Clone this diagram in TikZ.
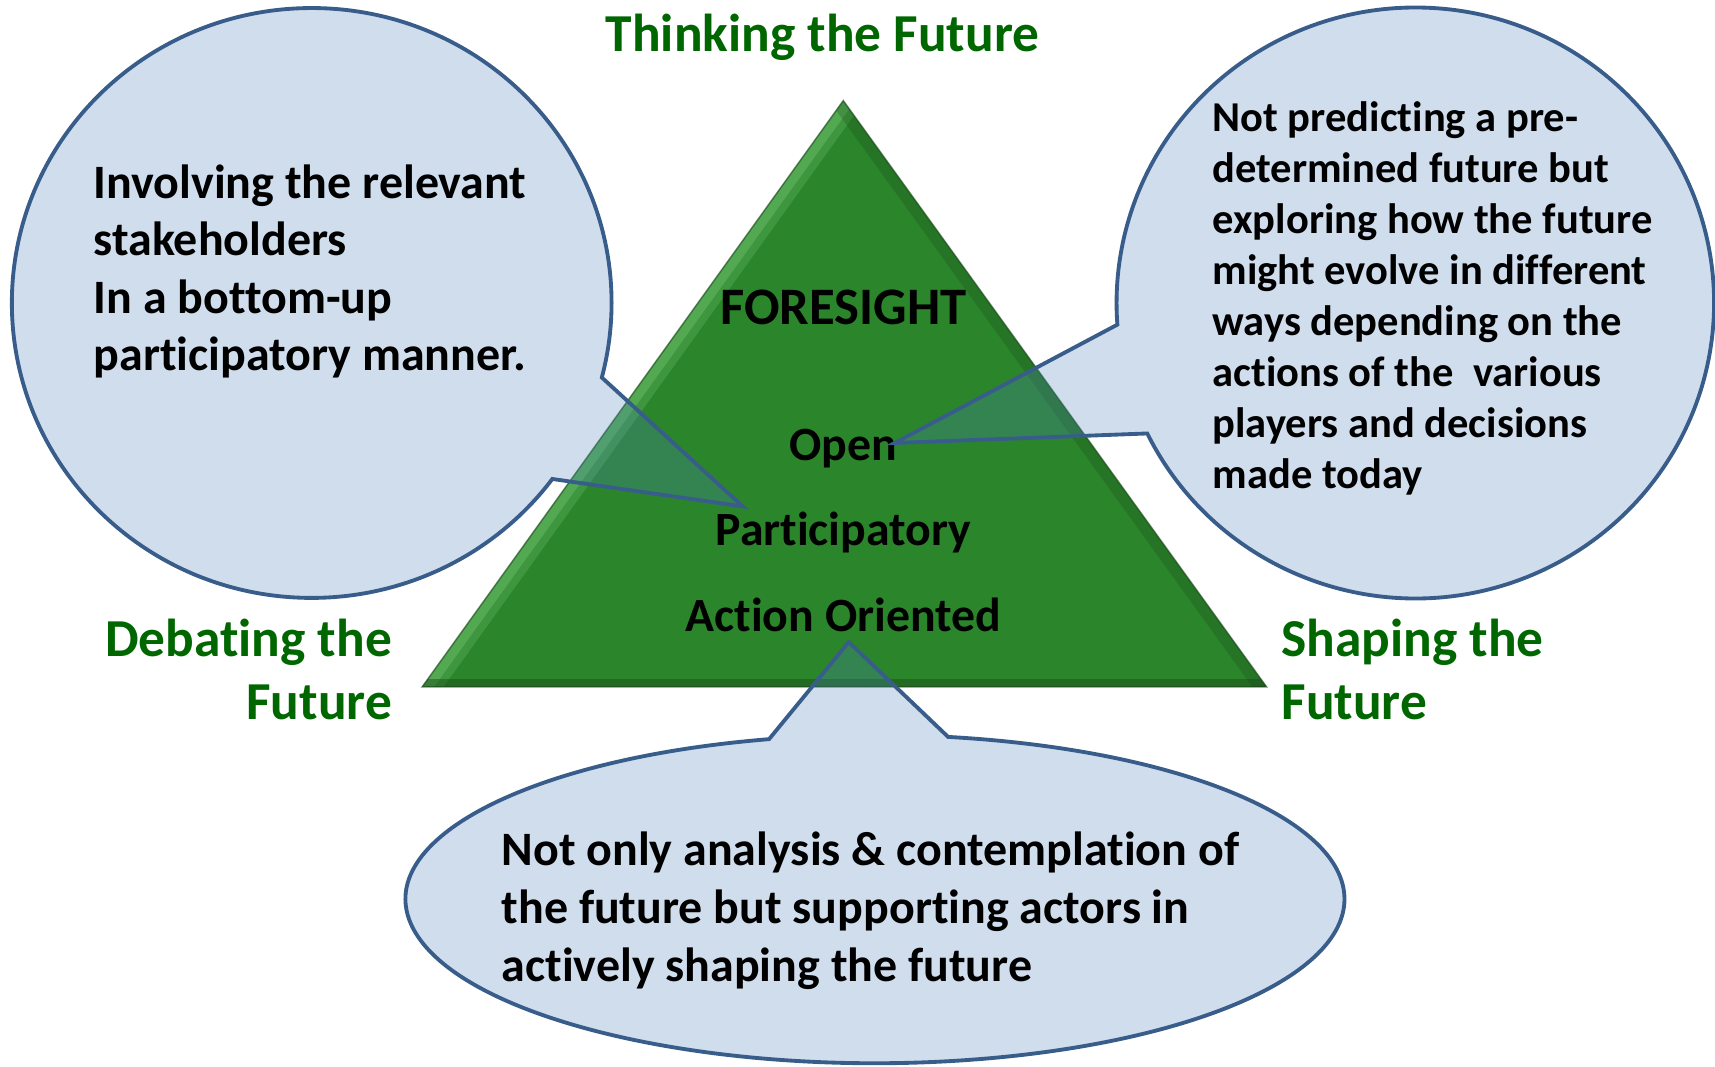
\documentclass[tikz,border=0pt]{standalone}
\usepackage{fontspec}
\setmainfont{Carlito}[Ligatures=NoCommon]
\usetikzlibrary{shapes.callouts}

\definecolor{trigreen}{RGB}{43,134,43}
\definecolor{hilite}{RGB}{120,205,120}
\definecolor{darkgreen}{RGB}{25,70,25}
\definecolor{labgreen}{RGB}{0,102,0}
\definecolor{bubfill}{RGB}{79,129,189}
\definecolor{bubline}{RGB}{56,93,138}

\begin{document}
\begin{tikzpicture}[x=0.01cm,y=-0.01cm,
    bubble/.style={ellipse callout,draw=bubline,line width=1pt,
        fill=bubfill,fill opacity=0.27,draw opacity=1,inner sep=0pt},
    bubtext/.style={font=\bfseries\fontsize{12.47}{14.97}\selectfont,
        align=left,anchor=base west,inner sep=0pt},
    smalltext/.style={font=\bfseries\fontsize{11.06}{13.26}\selectfont,
        align=left,anchor=base west,inner sep=0pt},
    greenlab/.style={font=\bfseries\fontsize{13.88}{16.5}\selectfont,
        text=labgreen,inner sep=0pt},
    triglab/.style={font=\bfseries\fontsize{12.42}{14}\selectfont,
        anchor=base,inner sep=0pt}]
    \useasboundingbox (0,0) rectangle (1568,975);

    \coordinate (T1) at (771,92);
    \coordinate (T2) at (386,628);
    \coordinate (T3) at (1158,628);

    % the pyramid
    \fill[trigreen] (T1) -- (T2) -- (T3) -- cycle;
    \begin{scope}
        \clip (T1) -- (T2) -- (T3) -- cycle;
        \draw[line width=9pt,hilite,opacity=.25] (T1) -- (T2);
        \draw[line width=5pt,hilite,opacity=.35] (T1) -- (T2);
        \draw[line width=6pt,darkgreen,opacity=.25] (T1) -- (T3);
        \draw[line width=4pt,darkgreen,opacity=.45] (T2) -- (T3);
    \end{scope}
    \draw[line width=.4pt,darkgreen,opacity=.6] (T1) -- (T2) -- (T3) -- cycle;

    \node[triglab,font=\bfseries\fontsize{13.7}{15}\selectfont] (fore) at (771,297) {FORESIGHT};
    \node[triglab] (open) at (771,421) {Open};
    \node[triglab] (part) at (771,499) {Participatory};
    \node[triglab] (act) at (771,577) {Action Oriented};

    \node[greenlab,anchor=base] (think) at (752,47) {Thinking the Future};
    \node[greenlab,align=right,anchor=base east] (debate) at (359,658) {Debating the\\Future};
    \node[greenlab,align=left,anchor=base west] (shape) at (1171,658) {Shaping the\\Future};

    % callouts
    \node[bubble,minimum width=5.48cm,minimum height=5.39cm,
        callout absolute pointer={(679,463)},callout pointer arc=22] (lbub) at (285,277) {};
    \node[bubble,minimum width=5.46cm,minimum height=5.40cm,
        callout absolute pointer={(818,405)},callout pointer arc=22] (rbub) at (1294,277) {};
    \node[bubble,minimum width=8.58cm,minimum height=3.00cm,
        callout absolute pointer={(776,587)},callout pointer arc=22] (bbub) at (800,822) {};

    \node[bubtext] (ltext) at (85,339) {Involving the relevant\\stakeholders\\In a bottom-up\\participatory manner.};
    \node[smalltext] (rtext) at (1108,447) {Not predicting a pre-\\determined future but\\exploring how the future\\might evolve in different\\ways depending on the\\actions of the\ \ various\\players and decisions\\made today};
    \node[bubtext] (btext) at (458,897) {Not only analysis \& contemplation of\\the future but supporting actors in\\actively shaping the future};
\end{tikzpicture}
\end{document}
